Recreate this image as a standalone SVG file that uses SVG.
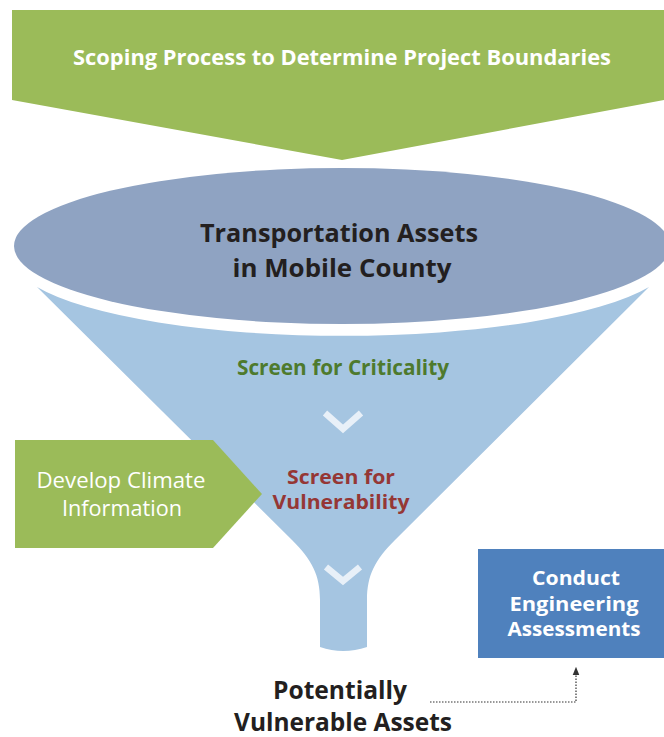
<svg xmlns="http://www.w3.org/2000/svg" width="664" height="737" viewBox="0 0 664 737">
<defs>
<style>
text{font-family:"Open Sans","Liberation Sans",sans-serif;text-anchor:middle}
.b{font-weight:bold}
.w{fill:#ffffff}
.k{fill:#231f20}
.chev{fill:none;stroke:#e8f0f8;stroke-width:6.5;stroke-linejoin:miter}
</style>
<marker id="ah" viewBox="0 0 10 10" refX="5" refY="5" markerWidth="7" markerHeight="7" orient="auto">
<path d="M0,1 L10,5 L0,9 Z" fill="#333"/>
</marker>
</defs>
<rect width="664" height="737" fill="#ffffff"/>

<g id="scoping">
<polygon points="12,10 664,10 664,100 342,160 12,100" fill="#9bbb59"/>
<text class="b w" x="342" y="65" font-size="22" textLength="538" lengthAdjust="spacingAndGlyphs">Scoping Process to Determine Project Boundaries</text>
</g>

<g id="funnel">
<path d="M37,287 A330,78 0 0 0 649,287 L395,540 C375,560 367,575 367,600 L367,647 Q343,655 320,647 L320,600 C320,575 312,560 292,540 Z" fill="#a5c5e1"/>
<polyline class="chev" points="325,413 343,429 361,413"/>
<polyline class="chev" points="326,567 343,581 360,567"/>
</g>

<g id="assets">
<ellipse cx="342" cy="246" rx="328" ry="78" fill="#8fa3c2"/>
<text class="b k" x="339" y="242" font-size="25.5" textLength="278" lengthAdjust="spacingAndGlyphs">Transportation Assets</text>
<text class="b k" x="342" y="277" font-size="25.5" textLength="219" lengthAdjust="spacingAndGlyphs">in Mobile County</text>
</g>

<g id="criticality">
<text class="b" x="343" y="375" font-size="21" fill="#4e7a2d" textLength="212" lengthAdjust="spacingAndGlyphs">Screen for Criticality</text>
</g>

<g id="vulnerability">
<text class="b" x="341" y="484" font-size="20" fill="#953735" textLength="108" lengthAdjust="spacingAndGlyphs">Screen for</text>
<text class="b" x="341" y="509" font-size="20" fill="#953735" textLength="137" lengthAdjust="spacingAndGlyphs">Vulnerability</text>
</g>

<g id="climate">
<polygon points="15,440 213,440 262,494 213,548 15,548" fill="#9bbb59"/>
<text class="w" x="121" y="488" font-size="21" textLength="169" lengthAdjust="spacingAndGlyphs">Develop Climate</text>
<text class="w" x="122" y="516" font-size="21" textLength="120" lengthAdjust="spacingAndGlyphs">Information</text>
</g>

<g id="engineering">
<rect x="478" y="549" width="186" height="109" fill="#4f81bd"/>
<text class="b w" x="576" y="585" font-size="20" textLength="88" lengthAdjust="spacingAndGlyphs">Conduct</text>
<text class="b w" x="574" y="611" font-size="20" textLength="129" lengthAdjust="spacingAndGlyphs">Engineering</text>
<text class="b w" x="574" y="636" font-size="20" textLength="133" lengthAdjust="spacingAndGlyphs">Assessments</text>
</g>

<g id="potential">
<text class="b k" x="340" y="699" font-size="25" textLength="134" lengthAdjust="spacingAndGlyphs">Potentially</text>
<text class="b k" x="343" y="731" font-size="25" textLength="218" lengthAdjust="spacingAndGlyphs">Vulnerable Assets</text>
</g>

<g id="connectors">
<polyline points="430,702 576,702 576,671" fill="none" stroke="#333" stroke-width="1.2" stroke-dasharray="1.5 1.5" marker-end="url(#ah)"/>
</g>
</svg>
